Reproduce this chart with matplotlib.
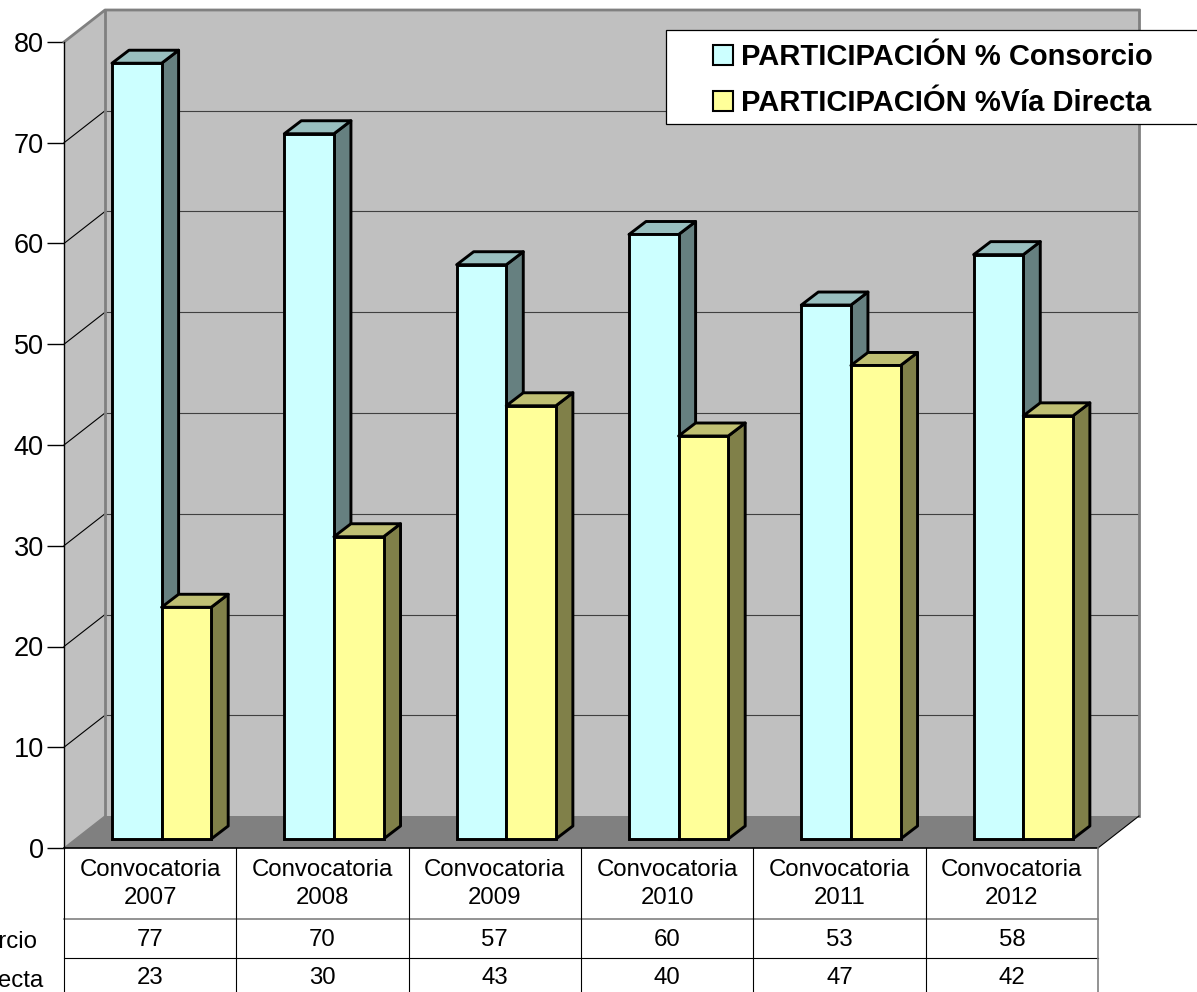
import matplotlib
matplotlib.use("Agg")
import matplotlib.pyplot as plt
from matplotlib.patches import Patch, Polygon, Rectangle

plt.rcParams['font.family'] = ['Liberation Sans', 'DejaVu Sans']

categories = ["Convocatoria\n2007", "Convocatoria\n2008", "Convocatoria\n2009",
              "Convocatoria\n2010", "Convocatoria\n2011", "Convocatoria\n2012"]
consorcio = [77, 70, 57, 60, 53, 58]
directa = [23, 30, 43, 40, 47, 42]
label_consorcio = "PARTICIPACIÓN % Consorcio"
label_directa = "PARTICIPACIÓN %Vía Directa"
yticks = [0, 10, 20, 30, 40, 50, 60, 70, 80]

W, H = 1197, 992
# pixels per data unit on the front plane
PX_X = 1034 / 6
PX_Y = 806 / 80


def dx(px):
    return px / PX_X


def dy(px):
    return px / PX_Y


fig = plt.figure(figsize=(W / 100, H / 100), dpi=100, facecolor='white')
ax = fig.add_axes([64 / W, (H - 848) / H, 1034 / W, 806 / H])
ax.set_xlim(0, 6)
ax.set_ylim(0, 80)
for s in ax.spines.values():
    s.set_visible(False)
ax.patch.set_visible(False)
ax.set_xticks([])
ax.set_yticks(yticks)
ax.tick_params(axis='y', length=12, width=1, pad=2.5, labelsize=19.5, color='black')

# walls and floor
wx, wy = dx(41), dy(32)
ax.add_patch(Polygon([(0, 0), (wx, wy), (wx, 80 + wy), (0, 80)], fc='#c0c0c0', ec='none', zorder=1, clip_on=False))
ax.add_patch(Rectangle((wx, wy), 6, 80, fc='#c0c0c0', ec='none', zorder=1, clip_on=False))
ax.add_patch(Polygon([(0, 0), (6, 0), (6 + wx, wy), (wx, wy)], fc='#808080', ec='none', zorder=2, clip_on=False))

for t in yticks[1:-1]:
    ax.plot([0, wx], [t, t + wy], color='black', lw=0.8, zorder=2, clip_on=False)
    ax.plot([wx, 6 + wx], [t + wy, t + wy], color='#404040', lw=0.8, zorder=2, clip_on=False)

edge_grey = '#808080'
ax.plot([wx, wx], [wy, 80 + wy], color=edge_grey, lw=2, zorder=3, clip_on=False)
ax.plot([6 + wx, 6 + wx], [wy, 80 + wy], color=edge_grey, lw=2, zorder=3, clip_on=False)
ax.plot([0, wx, 6 + wx], [80, 80 + wy, 80 + wy], color=edge_grey, lw=2, zorder=3, clip_on=False)
ax.plot([0, wx], [0, wy], color=edge_grey, lw=1, zorder=3, clip_on=False)
ax.plot([6, 6 + wx], [0, wy], color='black', lw=0.8, zorder=3, clip_on=False)
ax.plot([0, 0], [0, 80], color='black', lw=1, zorder=3, clip_on=False)

# bars
bar_w = dx(49.6)
start = dx(48)
lift = dy(9)
sx, sy = dx(17), dy(13)
bar_lw = 2.1
styles = [('#ccffff', '#99bfbf', '#668080'), ('#ffff99', '#bfbf73', '#808049')]
z = 4
for i in range(6):
    for j, vals in enumerate([consorcio, directa]):
        front, top, side = styles[j]
        x0 = i + start + j * bar_w
        x1 = x0 + bar_w
        y1 = lift + vals[i]
        ax.add_patch(Polygon([(x1, lift), (x1 + sx, lift + sy), (x1 + sx, y1 + sy), (x1, y1)],
                             fc=side, ec='black', lw=bar_lw, joinstyle='round', zorder=z, clip_on=False))
        ax.add_patch(Polygon([(x0, y1), (x1, y1), (x1 + sx, y1 + sy), (x0 + sx, y1 + sy)],
                             fc=top, ec='black', lw=bar_lw, joinstyle='round', zorder=z, clip_on=False))
        ax.bar(x0, vals[i], width=bar_w, bottom=lift, align='edge', color=front, edgecolor='black',
               linewidth=bar_lw, zorder=z + 0.5, clip_on=False)
        z += 1

# data table under the plot
row1 = dy(-71)
row2 = dy(-109.5)
bottom = dy(-144)
tz = 50
table_size = 17.3
ax.plot([0, 6], [0, 0], color='black', lw=1.2, zorder=tz, clip_on=False)
ax.plot([0, 6], [row1, row1], color=edge_grey, lw=1.2, zorder=tz, clip_on=False)
ax.plot([0, 6], [row2, row2], color='black', lw=0.8, zorder=tz, clip_on=False)
for i in range(6):
    ax.plot([i, i], [0, bottom], color='black', lw=0.8, zorder=tz, clip_on=False)
ax.plot([6, 6], [0, bottom], color=edge_grey, lw=1.2, zorder=tz, clip_on=False)

for i in range(6):
    ax.text(i + 0.5, dy(-36), categories[i], ha='center', va='center', fontsize=table_size,
            linespacing=1.35, zorder=tz, clip_on=False)
    ax.text(i + 0.5, dy(-92), str(consorcio[i]), ha='center', va='center', fontsize=table_size, zorder=tz)
    ax.text(i + 0.5, dy(-130.5), str(directa[i]), ha='center', va='center', fontsize=table_size, zorder=tz)
ax.text(dx(-27), dy(-94), label_consorcio, ha='right', va='center', fontsize=table_size, zorder=tz)
ax.text(dx(-21), dy(-133), label_directa, ha='right', va='center', fontsize=table_size, zorder=tz)

# legend box runs off the right edge of the picture
fig.add_artist(Rectangle((665.5 / W, (H - 124) / H), 600 / W, 94 / H, transform=fig.transFigure,
                         fc='white', ec='black', lw=0.9, zorder=60))
handles = [Patch(fc='#ccffff', ec='black', lw=1.5), Patch(fc='#ffff99', ec='black', lw=1.5)]
leg = fig.legend(handles, [label_consorcio, label_directa], loc='upper left',
                 bbox_to_anchor=(704 / W, (H - 34) / H), frameon=False,
                 prop={'weight': 'bold', 'size': 21}, handlelength=0.68, handleheight=0.68,
                 handletextpad=0.3, labelspacing=0.62, borderpad=0.3, borderaxespad=0)
leg.set_zorder(61)

fig.savefig('out.png', dpi=100, facecolor='white')
